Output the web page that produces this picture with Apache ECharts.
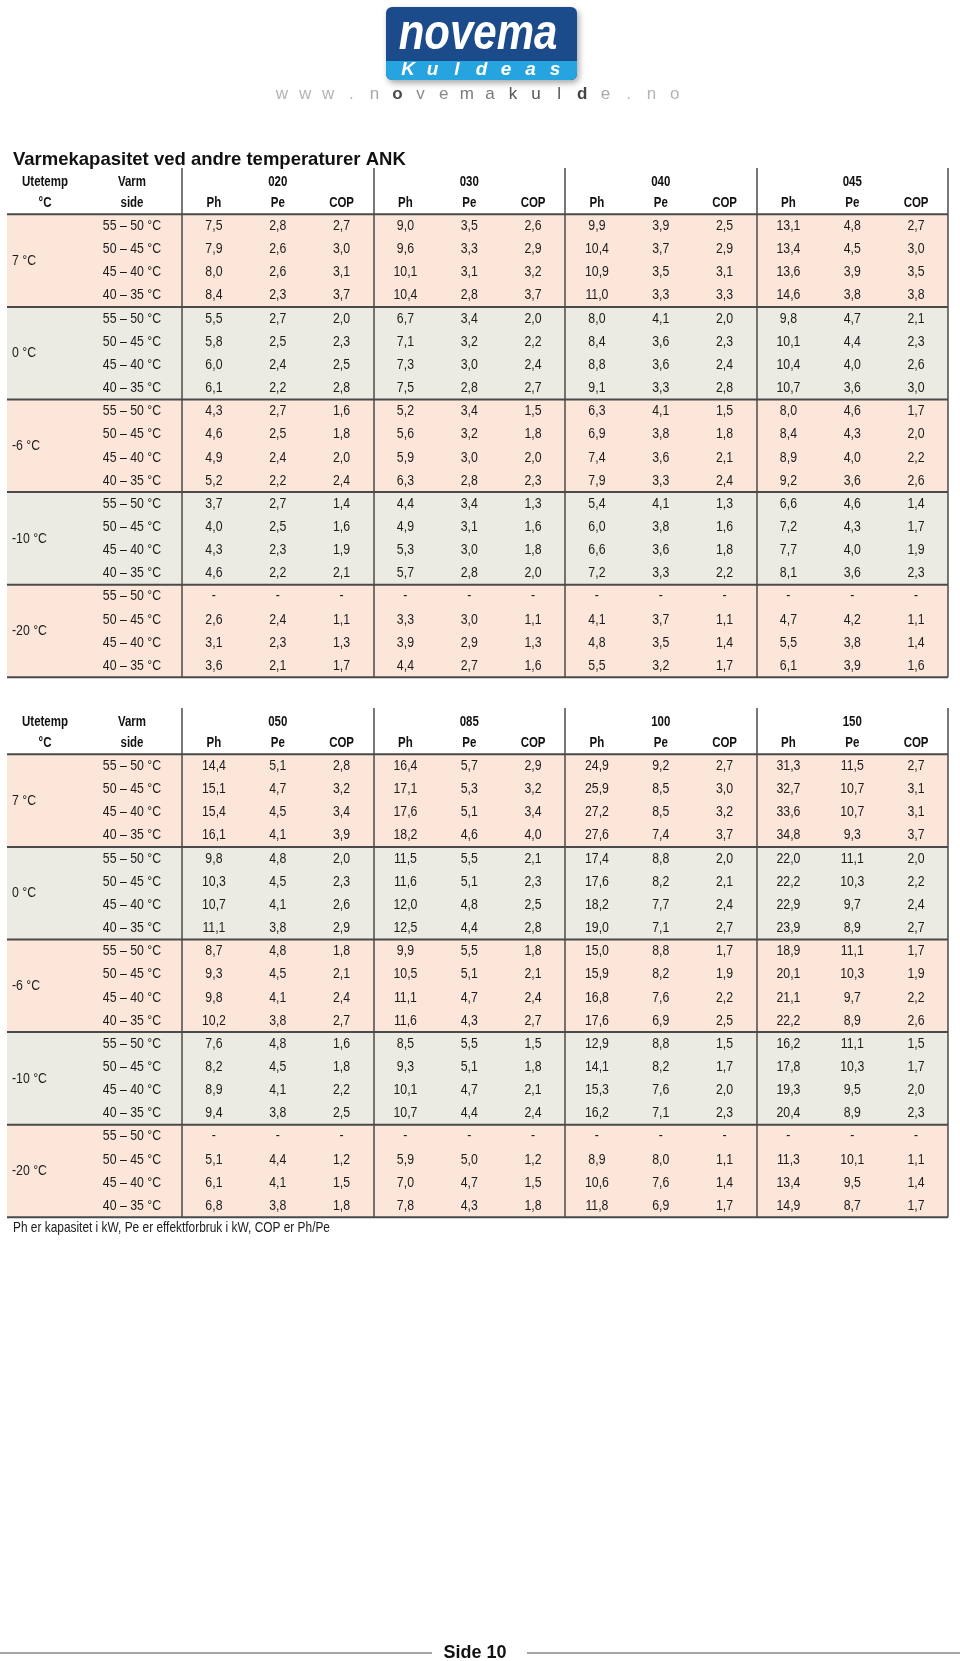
<!DOCTYPE html>
<html>
<head>
<meta charset="utf-8">
<title>Varmekapasitet ved andre temperaturer ANK</title>
<script src="https://cdn.jsdelivr.net/npm/echarts/dist/echarts.min.js"></script>
<style>
  html, body { margin: 0; padding: 0; background: #fff; }
  #chart { width: 960px; height: 1661px; }
</style>
</head>
<body>
<div id="chart"></div>
<script>
// rader: 7, 0, -6, -10, -20 °C, hver med 55-50 / 50-45 / 45-40 / 40-35 °C
var utetemp = ['7 °C', '0 °C', '-6 °C', '-10 °C', '-20 °C'];
var varmside = ['55 – 50 °C', '50 – 45 °C', '45 – 40 °C', '40 – 35 °C'];
var kolonner = ['Ph', 'Pe', 'COP'];
var modeller1 = ['020', '030', '040', '045'];
var modeller2 = ['050', '085', '100', '150'];

var ph020  = [7.5, 7.9, 8.0, 8.4,  5.5, 5.8, 6.0, 6.1,  4.3, 4.6, 4.9, 5.2,  3.7, 4.0, 4.3, 4.6,  null, 2.6, 3.1, 3.6];
var pe020  = [2.8, 2.6, 2.6, 2.3,  2.7, 2.5, 2.4, 2.2,  2.7, 2.5, 2.4, 2.2,  2.7, 2.5, 2.3, 2.2,  null, 2.4, 2.3, 2.1];
var cop020 = [2.7, 3.0, 3.1, 3.7,  2.0, 2.3, 2.5, 2.8,  1.6, 1.8, 2.0, 2.4,  1.4, 1.6, 1.9, 2.1,  null, 1.1, 1.3, 1.7];

var ph030  = [9.0, 9.6, 10.1, 10.4,  6.7, 7.1, 7.3, 7.5,  5.2, 5.6, 5.9, 6.3,  4.4, 4.9, 5.3, 5.7,  null, 3.3, 3.9, 4.4];
var pe030  = [3.5, 3.3, 3.1, 2.8,  3.4, 3.2, 3.0, 2.8,  3.4, 3.2, 3.0, 2.8,  3.4, 3.1, 3.0, 2.8,  null, 3.0, 2.9, 2.7];
var cop030 = [2.6, 2.9, 3.2, 3.7,  2.0, 2.2, 2.4, 2.7,  1.5, 1.8, 2.0, 2.3,  1.3, 1.6, 1.8, 2.0,  null, 1.1, 1.3, 1.6];

var ph040  = [9.9, 10.4, 10.9, 11.0,  8.0, 8.4, 8.8, 9.1,  6.3, 6.9, 7.4, 7.9,  5.4, 6.0, 6.6, 7.2,  null, 4.1, 4.8, 5.5];
var pe040  = [3.9, 3.7, 3.5, 3.3,  4.1, 3.6, 3.6, 3.3,  4.1, 3.8, 3.6, 3.3,  4.1, 3.8, 3.6, 3.3,  null, 3.7, 3.5, 3.2];
var cop040 = [2.5, 2.9, 3.1, 3.3,  2.0, 2.3, 2.4, 2.8,  1.5, 1.8, 2.1, 2.4,  1.3, 1.6, 1.8, 2.2,  null, 1.1, 1.4, 1.7];

var ph045  = [13.1, 13.4, 13.6, 14.6,  9.8, 10.1, 10.4, 10.7,  8.0, 8.4, 8.9, 9.2,  6.6, 7.2, 7.7, 8.1,  null, 4.7, 5.5, 6.1];
var pe045  = [4.8, 4.5, 3.9, 3.8,  4.7, 4.4, 4.0, 3.6,  4.6, 4.3, 4.0, 3.6,  4.6, 4.3, 4.0, 3.6,  null, 4.2, 3.8, 3.9];
var cop045 = [2.7, 3.0, 3.5, 3.8,  2.1, 2.3, 2.6, 3.0,  1.7, 2.0, 2.2, 2.6,  1.4, 1.7, 1.9, 2.3,  null, 1.1, 1.4, 1.6];

var ph050  = [14.4, 15.1, 15.4, 16.1,  9.8, 10.3, 10.7, 11.1,  8.7, 9.3, 9.8, 10.2,  7.6, 8.2, 8.9, 9.4,  null, 5.1, 6.1, 6.8];
var pe050  = [5.1, 4.7, 4.5, 4.1,  4.8, 4.5, 4.1, 3.8,  4.8, 4.5, 4.1, 3.8,  4.8, 4.5, 4.1, 3.8,  null, 4.4, 4.1, 3.8];
var cop050 = [2.8, 3.2, 3.4, 3.9,  2.0, 2.3, 2.6, 2.9,  1.8, 2.1, 2.4, 2.7,  1.6, 1.8, 2.2, 2.5,  null, 1.2, 1.5, 1.8];

var ph085  = [16.4, 17.1, 17.6, 18.2,  11.5, 11.6, 12.0, 12.5,  9.9, 10.5, 11.1, 11.6,  8.5, 9.3, 10.1, 10.7,  null, 5.9, 7.0, 7.8];
var pe085  = [5.7, 5.3, 5.1, 4.6,  5.5, 5.1, 4.8, 4.4,  5.5, 5.1, 4.7, 4.3,  5.5, 5.1, 4.7, 4.4,  null, 5.0, 4.7, 4.3];
var cop085 = [2.9, 3.2, 3.4, 4.0,  2.1, 2.3, 2.5, 2.8,  1.8, 2.1, 2.4, 2.7,  1.5, 1.8, 2.1, 2.4,  null, 1.2, 1.5, 1.8];

var ph100  = [24.9, 25.9, 27.2, 27.6,  17.4, 17.6, 18.2, 19.0,  15.0, 15.9, 16.8, 17.6,  12.9, 14.1, 15.3, 16.2,  null, 8.9, 10.6, 11.8];
var pe100  = [9.2, 8.5, 8.5, 7.4,  8.8, 8.2, 7.7, 7.1,  8.8, 8.2, 7.6, 6.9,  8.8, 8.2, 7.6, 7.1,  null, 8.0, 7.6, 6.9];
var cop100 = [2.7, 3.0, 3.2, 3.7,  2.0, 2.1, 2.4, 2.7,  1.7, 1.9, 2.2, 2.5,  1.5, 1.7, 2.0, 2.3,  null, 1.1, 1.4, 1.7];

var ph150  = [31.3, 32.7, 33.6, 34.8,  22.0, 22.2, 22.9, 23.9,  18.9, 20.1, 21.1, 22.2,  16.2, 17.8, 19.3, 20.4,  null, 11.3, 13.4, 14.9];
var pe150  = [11.5, 10.7, 10.7, 9.3,  11.1, 10.3, 9.7, 8.9,  11.1, 10.3, 9.7, 8.9,  11.1, 10.3, 9.5, 8.9,  null, 10.1, 9.5, 8.7];
var cop150 = [2.7, 3.1, 3.1, 3.7,  2.0, 2.2, 2.4, 2.7,  1.7, 1.9, 2.2, 2.6,  1.5, 1.7, 2.0, 2.3,  null, 1.1, 1.4, 1.7];

var tabell1 = [ph020, pe020, cop020, ph030, pe030, cop030, ph040, pe040, cop040, ph045, pe045, cop045];
var tabell2 = [ph050, pe050, cop050, ph085, pe085, cop085, ph100, pe100, cop100, ph150, pe150, cop150];

// layout (px)
var SANS = "'Liberation Sans', Arial, sans-serif";
var NARROW = 0.82;               // Arial Narrow ~ 82 % av Arial
var rowH = 23.15;
var tableTops = [168, 708];
var gridLeft = 182, gridRight = 12;
var colW = (960 - gridLeft - gridRight) / 12;
var bgColors = ['#fce6da', '#ecebe3'];
var lineColor = '#4a4a4a';

// px -> x-akse-enheter
function ux(px) { return (px - gridLeft) / colW; }

function fmt(v) {
  return v == null ? '-' : v.toFixed(1).replace('.', ',');
}

function buildItems(modeller, cols) {
  var pts = [], meta = [];
  function add(x, y, t, bold, align) { pts.push([x, y]); meta.push({ t: t, b: bold, a: align || 'center' }); }
  // overskrift
  add(ux(45), 0.62, 'Utetemp', true);
  add(ux(132), 0.62, 'Varm', true);
  add(ux(45), 1.5, '°C', true);
  add(ux(132), 1.5, 'side', true);
  modeller.forEach(function (m, g) {
    add(3 * g + 1.5, 0.62, m, true);
    kolonner.forEach(function (k, j) { add(3 * g + j + 0.5, 1.5, k, true); });
  });
  // utetemp-grupper
  utetemp.forEach(function (u, g) { add(ux(12), 4 + 4 * g, u, false, 'left'); });
  // rader
  for (var r = 0; r < 20; r++) {
    add(ux(132), r + 2.5, varmside[r % 4], false);
    for (var c = 0; c < 12; c++) add(c + 0.5, r + 2.5, fmt(cols[c][r]), false);
  }
  return { pts: pts, meta: meta };
}

var chart = echarts.init(document.getElementById('chart'));

var grids = [], xAxes = [], yAxes = [], series = [];
[[modeller1, tabell1], [modeller2, tabell2]].forEach(function (t, i) {
  grids.push({
    left: gridLeft, right: gridRight, top: tableTops[i], height: rowH * 22,
    containLabel: false, outerBoundsMode: 'none'
  });
  // loddrette linjer mellom modellene
  xAxes.push({
    type: 'value', gridIndex: i, min: 0, max: 12, interval: 3, z: 2,
    axisLine: { show: false }, axisTick: { show: false }, axisLabel: { show: false },
    splitLine: { show: true, showMinLine: true, showMaxLine: true, lineStyle: { color: lineColor, width: 1.5 } }
  });
  yAxes.push({
    type: 'value', gridIndex: i, min: 0, max: 22, inverse: true,
    axisLine: { show: false }, axisTick: { show: false }, axisLabel: { show: false },
    splitLine: { show: false }
  });

  // bakgrunn og vannrette linjer
  series.push({
    type: 'custom', xAxisIndex: i, yAxisIndex: i, z: 1, clip: false, silent: true,
    data: utetemp.map(function (u, g) { return [ux(7), 2 + 4 * g]; }),
    renderItem: function (params, api) {
      var a = api.coord([api.value(0), api.value(1)]);
      var b = api.coord([12, api.value(1) + 4]);
      var kids = [
        { type: 'rect', shape: { x: a[0], y: a[1], width: b[0] - a[0], height: b[1] - a[1] },
          style: { fill: bgColors[params.dataIndex % 2] } },
        { type: 'line', shape: { x1: a[0], y1: a[1], x2: b[0], y2: a[1] },
          style: { stroke: lineColor, lineWidth: 2 } }
      ];
      if (params.dataIndex === utetemp.length - 1) {
        kids.push({ type: 'line', shape: { x1: a[0], y1: b[1], x2: b[0], y2: b[1] },
          style: { stroke: lineColor, lineWidth: 2 } });
      }
      return { type: 'group', children: kids };
    }
  });

  // all tekst i tabellen
  var items = buildItems(t[0], t[1]);
  series.push({
    type: 'custom', xAxisIndex: i, yAxisIndex: i, z: 5, clip: false, silent: true,
    data: items.pts,
    renderItem: function (params, api) {
      var it = items.meta[params.dataIndex];
      var p = api.coord([api.value(0), api.value(1)]);
      return {
        type: 'text', x: p[0], y: p[1], scaleX: NARROW,
        style: { text: it.t, align: it.a, verticalAlign: 'middle',
                 font: (it.b ? 'bold 14px ' : '15px ') + SANS, fill: it.b ? '#111' : '#1c1c1c' }
      };
    }
  });
});

// logo, tittel, fotnote og sidetall
var web = 'www.novemakulde.no'.split('');
var webColors = ['#b4b4b4', '#b4b4b4', '#b4b4b4', '#b4b4b4', '#a8a8a8', '#4a4a4a', '#8a8a8a', '#8a8a8a',
                 '#7a7a7a', '#7a7a7a', '#555', '#555', '#555', '#444', '#a8a8a8', '#b4b4b4', '#b4b4b4', '#b4b4b4'];
var kul = 'Kuldeas'.split('');
var graphics = [
  { type: 'rect', shape: { x: 386, y: 7, width: 191, height: 73, r: 6 },
    style: { fill: '#1b4b8b', shadowBlur: 6, shadowOffsetX: 2, shadowOffsetY: 3, shadowColor: 'rgba(0,0,0,0.35)' } },
  { type: 'rect', shape: { x: 386, y: 61, width: 191, height: 19, r: [0, 0, 6, 6] },
    style: { fill: '#26a4e0' } },
  { type: 'text', x: 478, y: 35, scaleX: 0.84,
    style: { text: 'novema', font: 'italic bold 50px ' + SANS, fill: '#fff', align: 'center', verticalAlign: 'middle' } },
  { type: 'text', x: 13, y: 160,
    style: { text: 'Varmekapasitet ved andre temperaturer ANK', font: 'bold 18.5px ' + SANS, fill: '#111', verticalAlign: 'middle' } },
  { type: 'text', x: 13, y: 1228, scaleX: NARROW,
    style: { text: 'Ph er kapasitet i kW, Pe er effektforbruk i kW, COP er Ph/Pe', font: '14.5px ' + SANS, fill: '#1c1c1c', verticalAlign: 'middle' } },
  { type: 'line', shape: { x1: 0, y1: 1653, x2: 432, y2: 1653 },
    style: { stroke: '#a3a6a8', lineWidth: 2 } },
  { type: 'line', shape: { x1: 527, y1: 1653, x2: 960, y2: 1653 },
    style: { stroke: '#a3a6a8', lineWidth: 2 } },
  { type: 'text', x: 475, y: 1653,
    style: { text: 'Side 10', font: 'bold 18px ' + SANS, fill: '#111', align: 'center', verticalAlign: 'middle' } }
];
kul.forEach(function (ch, k) {
  graphics.push({ type: 'text', x: 408 + k * 24.5, y: 70,
    style: { text: ch, font: 'italic bold 19px ' + SANS, fill: '#fff', align: 'center', verticalAlign: 'middle' } });
});
web.forEach(function (ch, k) {
  graphics.push({ type: 'text', x: 282 + k * 23.1, y: 94,
    style: { text: ch, font: (k === 5 || k === 13 ? 'bold ' : '') + '17px ' + SANS, fill: webColors[k],
             align: 'center', verticalAlign: 'middle' } });
});

var option = {
  animation: false,
  backgroundColor: '#fff',
  grid: grids,
  xAxis: xAxes,
  yAxis: yAxes,
  series: series,
  graphic: { elements: graphics }
};

chart.setOption(option);
</script>
</body>
</html>
